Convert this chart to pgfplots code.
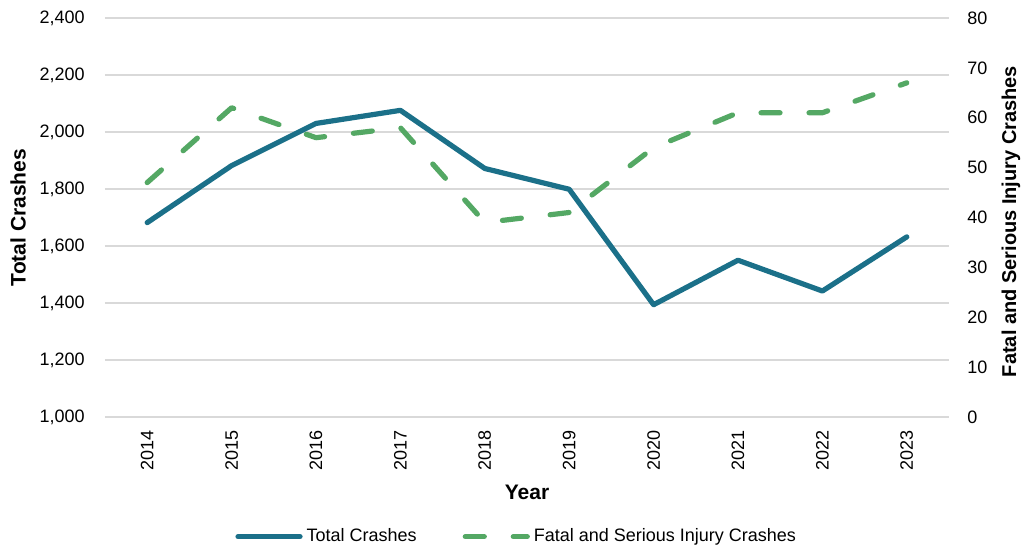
\documentclass[border=0pt]{standalone}
\usepackage{fontspec}
\setmainfont{Liberation Sans}
\usepackage{pgfplots}
\usepackage{pgfplotstable}
\pgfplotsset{compat=1.18}
\definecolor{tblue}{RGB}{27,112,137}
\definecolor{tgreen}{RGB}{84,168,100}
\definecolor{gridgray}{RGB}{217,217,217}
\pgfplotstableread{
x year total fsi
0 2014 1682 47
1 2015 1882 62
2 2016 2030 56
3 2017 2076 58
4 2018 1872 39
5 2019 1799 41
6 2020 1394 54
7 2021 1550 61
8 2022 1442 61
9 2023 1632 67
}\crashdata
\begin{document}
\begin{tikzpicture}
\path[use as bounding box] (-52.5pt,-66.5pt) rectangle (459.5pt,208.5pt);
\pgfplotsset{
  every axis/.append style={
    scale only axis, width=422pt, height=199.5pt,
    xmin=-0.5, xmax=9.5,
    font=\fontsize{9}{11}\selectfont,
    /pgf/number format/assume math mode=true,
    major tick length=0pt,
    axis line style={draw=none},
  }
}
\begin{axis}[
  axis y line*=left, axis x line*=bottom,
  ymin=1000, ymax=2400, ytick={1000,1200,...,2400},
  /pgf/number format/.cd, fixed, 1000 sep={,}, /pgfplots/.cd,
  ymajorgrids, grid style={gridgray, line width=0.6pt},
  xtick={0,...,9},
  xticklabels={2014,2015,2016,2017,2018,2019,2020,2021,2022,2023},
  xticklabel style={rotate=90, anchor=east, inner sep=0pt},
  xticklabel shift=6.5pt,
  yticklabel style={inner sep=0pt, anchor=east},
  yticklabel shift=10pt,
  xlabel={\fontsize{10.5}{12}\selectfont\bfseries Year},
  xlabel style={at={(axis description cs:0.5,-0.19)}, anchor=center},
  ylabel={\fontsize{10.5}{12}\selectfont\bfseries Total Crashes},
  ylabel style={at={(axis description cs:-0.103,0.5)}, anchor=center},
]
\addplot[tblue, line width=2.6pt, line join=round, line cap=round] table[x=x, y=total] {\crashdata};
\end{axis}
\begin{axis}[
  axis y line*=right, axis x line=none,
  ymin=0, ymax=80, ytick={0,10,...,80},
  xtick=\empty,
  yticklabel style={inner sep=0pt, anchor=west},
  yticklabel shift=9pt,
  ylabel={\fontsize{10}{12}\selectfont\bfseries Fatal and Serious Injury Crashes},
  ylabel style={at={(axis description cs:1.0735,0.49)}, anchor=center},
  legend columns=2,
  legend style={draw=none, fill=none, at={(axis description cs:0.489,-0.30)}, anchor=center,
    font=\fontsize{9}{11}\selectfont,
    /tikz/every even column/.append style={column sep=21pt}},
  legend image code/.code={\draw[#1] (0pt,0pt) -- (31pt,0pt);},
]
\addlegendimage{tblue, line width=2.6pt, line cap=round}
\addlegendentry{Total Crashes}
\addplot[tgreen, line width=2.6pt, line cap=round, line join=round, dash pattern=on 9.5pt off 14.5pt] table[x=x, y=fsi] {\crashdata};
\addlegendentry{Fatal and Serious Injury Crashes}
\end{axis}
\end{tikzpicture}
\end{document}
